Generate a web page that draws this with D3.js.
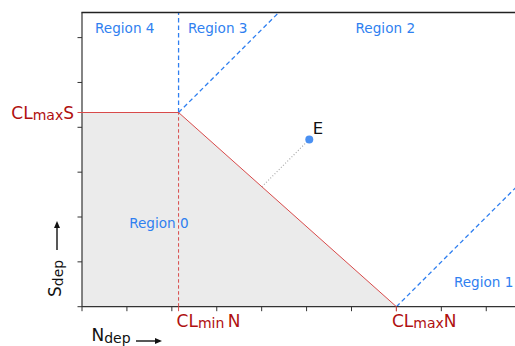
<!DOCTYPE html>
<html><head><meta charset="utf-8">
<script src="https://cdn.jsdelivr.net/npm/d3@7"></script>
<style>body{margin:0;background:#fff}svg{display:block}text{font-family:"DejaVu Sans",sans-serif}</style>
</head><body>
<script>
// ---- data ----
const xTicks = [0,1,2,3,4,5,6,7,8,9];
const yTicks = [0,1,2,3,4,5,6];
const CLminN = 2.15;
const CLmaxS = 4.33;
const CLmaxN = 7.0;
const pointE = [5.06, 3.73];
const regionNames = ["Region 0","Region 1","Region 2","Region 3","Region 4"];
const regionAnchors = [[1.05,1.75],[8.28,0.43],[6.09,6.1],[2.36,6.1],[0.29,6.1]];

const W = 515, H = 346;
const x = d3.scaleLinear().domain([0, 9.64]).range([82, 515]);
const y = d3.scaleLinear().domain([0, 6.56]).range([306.7, 12.5]);
const svg = d3.select("body").append("svg").attr("width", W).attr("height", H);

svg.append("clipPath").attr("id","clip").append("rect")
  .attr("x", x(0)).attr("y", y(6.56)).attr("width", x(9.64)-x(0)).attr("height", y(0)-y(6.56));
const g = svg.append("g").attr("clip-path","url(#clip)");
const line = d3.line().x(d=>x(d[0])).y(d=>y(d[1]));

const RED = "#d84a4a", BLUE = "#2f7ff0", DRED = "#b01010";

// fill region 0
g.append("path").attr("d", line([[0,CLmaxS],[CLminN,CLmaxS],[CLmaxN,0],[0,0]])+"Z").attr("fill","#ebebeb");

// blue dashed boundaries
g.append("path").attr("d", line([[CLminN,CLmaxS],[CLminN,6.56]])).attr("stroke",BLUE).attr("stroke-width",1.3).attr("stroke-dasharray","4.5,3").attr("fill","none");
g.append("path").attr("d", line([[CLminN,CLmaxS],[CLminN+3,CLmaxS+3]])).attr("stroke",BLUE).attr("stroke-width",1.3).attr("stroke-dasharray","4.5,3").attr("fill","none");
g.append("path").attr("d", line([[CLmaxN,0],[CLmaxN+4,4]])).attr("stroke",BLUE).attr("stroke-width",1.3).attr("stroke-dasharray","4.5,3").attr("fill","none");

// dotted from E at 45 deg to the red line
const slope = CLmaxS/(CLmaxN-CLminN);
const t = (pointE[1] - slope*(CLmaxN-pointE[0]))/(1+slope);
g.append("path").attr("d", line([pointE,[pointE[0]-t, pointE[1]-t]])).attr("stroke","#aaa").attr("stroke-width",1.2).attr("stroke-dasharray","1,2").attr("fill","none");

// axes
const ax = svg.append("g");
ax.selectAll(".xt").data(xTicks).join("line").attr("x1",d=>x(d)).attr("x2",d=>x(d)).attr("y1",y(0)).attr("y2",y(0)+4.5).attr("stroke","#333").attr("stroke-width",1);
ax.selectAll(".yt").data(yTicks).join("line").attr("y1",d=>y(d)).attr("y2",d=>y(d)).attr("x1",x(0)-4.5).attr("x2",x(0)).attr("stroke","#333").attr("stroke-width",1);
ax.append("line").attr("x1",x(0)).attr("x2",x(0)).attr("y1",y(0)).attr("y2",y(6.56)).attr("stroke","#333").attr("stroke-width",1.2);
ax.append("line").attr("x1",x(0)).attr("x2",W).attr("y1",y(0)).attr("y2",y(0)).attr("stroke","#333").attr("stroke-width",1.2);
ax.append("line").attr("x1",x(0)-0.6).attr("x2",W).attr("y1",y(6.56)).attr("y2",y(6.56)).attr("stroke","#222").attr("stroke-width",1.5);

// red lines
svg.append("path").attr("d", line([[CLminN,0],[CLminN,CLmaxS]])).attr("stroke",RED).attr("stroke-width",1).attr("stroke-dasharray","3.5,2.5").attr("fill","none");
svg.append("line").attr("x1",x(CLminN)).attr("x2",x(CLminN)).attr("y1",y(0)).attr("y2",y(0)+4.5).attr("stroke",RED);
svg.append("line").attr("x1",x(CLmaxN)).attr("x2",x(CLmaxN)).attr("y1",y(0)).attr("y2",y(0)+4.5).attr("stroke",RED);
svg.append("path").attr("d", line([[0,CLmaxS],[CLminN,CLmaxS],[CLmaxN,0]])).attr("stroke",RED).attr("stroke-width",1).attr("fill","none");
svg.append("line").attr("x1",x(0)-4.5).attr("x2",x(0)).attr("y1",y(CLmaxS)).attr("y2",y(CLmaxS)).attr("stroke",RED);

// point E
svg.append("circle").attr("cx",x(pointE[0])).attr("cy",y(pointE[1])).attr("r",4).attr("fill","#4a90f2");
svg.append("text").attr("x",x(pointE[0])+3.5).attr("y",y(pointE[1])-5).attr("font-size",16.5).attr("fill","#111").text("E");

// region labels
svg.selectAll(".rl").data(regionNames).join("text")
  .attr("x",(d,i)=>x(regionAnchors[i][0])).attr("y",(d,i)=>y(regionAnchors[i][1]))
  .attr("font-size",13.6).attr("fill",BLUE).text(d=>d);

// CL labels
function clLabel(tx, ty, sub, tail, anchor){
  const t = svg.append("text").attr("x",tx).attr("y",ty).attr("font-size",17).attr("fill",DRED).attr("text-anchor",anchor);
  t.append("tspan").text("CL");
  t.append("tspan").attr("font-size",14).attr("dy",1.5).text(sub);
  t.append("tspan").attr("dy",-1.5).text(tail);
}
clLabel(x(0)-8, y(CLmaxS)+6, "max", "S", "end");
clLabel(x(CLminN)-2, 326.7, "min", "\u2009N", "start");
clLabel(x(CLmaxN)-4.5, 326.7, "max", "N", "start");

// axis names
const nt = svg.append("text").attr("x",91.5).attr("y",341).attr("font-size",17).attr("fill","#111");
nt.append("tspan").text("N");
nt.append("tspan").attr("font-size",14).attr("dy",1.5).text("dep");
const st = svg.append("text").attr("transform","translate(61,297) rotate(-90)").attr("font-size",17).attr("fill","#111");
st.append("tspan").text("S");
st.append("tspan").attr("font-size",14).attr("dy",1.5).text("dep");
// arrows
function arrow(x1,y1,x2,y2){
  svg.append("line").attr("x1",x1).attr("y1",y1).attr("x2",x2).attr("y2",y2).attr("stroke","#111").attr("stroke-width",1.4);
}
arrow(136,341,158,341);
svg.append("path").attr("d","M162,341 L155,338 L155,344 Z").attr("fill","#111");
arrow(57,250,57,225);
svg.append("path").attr("d","M57,221 L54,228 L60,228 Z").attr("fill","#111");
</script>
</body></html>
